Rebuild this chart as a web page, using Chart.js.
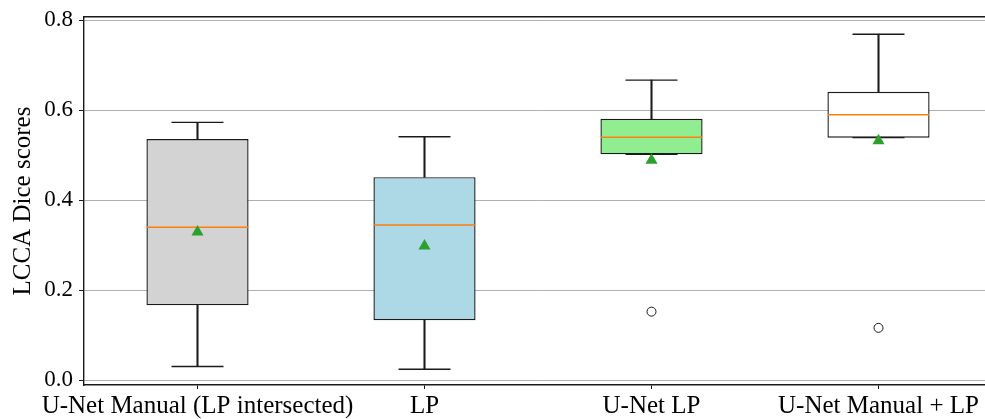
<!DOCTYPE html>
<html>
<head>
<meta charset="utf-8">
<script src="https://cdn.jsdelivr.net/npm/chart.js@4"></script>
<style>
  html, body { margin: 0; padding: 0; background: #fff; overflow: hidden; }
  #wrap { width: 1000px; height: 419px; }
</style>
</head>
<body>
<div id="wrap"><canvas id="box" width="1000" height="419"></canvas></div>
<script>
// Dice score summaries per method (whiskers, quartiles, median, mean, fliers)
const methods = ['U-Net Manual (LP intersected)', 'LP', 'U-Net LP', 'U-Net Manual + LP'];
const whiskerLow = [0.030, 0.024, 0.502, 0.539];
const q1 = [0.166, 0.133, 0.502, 0.539];
const medians = [0.340, 0.345, 0.540, 0.590];
const q3 = [0.536, 0.451, 0.581, 0.641];
const whiskerHigh = [0.573, 0.541, 0.667, 0.769];
const means = [0.329, 0.298, 0.489, 0.532];
const fliers = [null, null, 0.152, 0.116];
const yTicks = [0.0, 0.2, 0.4, 0.6, 0.8];

const boxColors = ['#d3d3d3', '#add8e6', '#90ee90', '#ffffff'];
const serif = "'Liberation Serif', 'DejaVu Serif', serif";
const ink = '#1a1a1a';

const boxWidth = 0.45;

// keep the plot area where we put it: no extra room for overhanging labels
function noPad(s) {
    s.paddingLeft = 0;
    s.paddingRight = 0;
    s.paddingTop = 0;
    s.paddingBottom = 0;
}

const datasets = [
    // whisker stems, behind the boxes
    {
        type: 'bar', label: 'upper whisker',
        data: q3.map((v, i) => [v, whiskerHigh[i]]),
        backgroundColor: ink, barThickness: 1.4, grouped: false, order: 9
    },
    {
        type: 'bar', label: 'lower whisker',
        data: q1.map((v, i) => [whiskerLow[i], v]),
        backgroundColor: ink, barThickness: 1.4, grouped: false, order: 9
    },
    // interquartile boxes
    {
        type: 'bar', label: 'IQR',
        data: q1.map((v, i) => [v, q3[i]]),
        backgroundColor: boxColors, borderColor: ink, borderWidth: 1.4,
        borderSkipped: false, categoryPercentage: 1, barPercentage: boxWidth,
        grouped: false, order: 8
    },
    // whisker caps
    {
        type: 'line', label: 'caps high', data: whiskerHigh, showLine: false,
        pointStyle: 'line', pointRadius: 26, pointBorderColor: ink, pointBorderWidth: 1.4, order: 5
    },
    {
        type: 'line', label: 'caps low', data: whiskerLow, showLine: false,
        pointStyle: 'line', pointRadius: 26, pointBorderColor: ink, pointBorderWidth: 1.4, order: 5
    },
    // medians
    {
        type: 'line', label: 'median', data: medians, showLine: false,
        pointStyle: 'line', pointRadius: 50.5, pointBorderColor: '#ff7f0e', pointBorderWidth: 1.5, order: 4
    },
    // means
    {
        type: 'line', label: 'mean', data: means, showLine: false,
        pointStyle: 'triangle', pointRadius: 7, pointBackgroundColor: '#2ca02c',
        pointBorderColor: '#2ca02c', pointBorderWidth: 0, order: 2
    },
    // outliers
    {
        type: 'line', label: 'fliers', data: fliers, showLine: false, spanGaps: false,
        pointStyle: 'circle', pointRadius: 4.5, pointBackgroundColor: 'rgba(0,0,0,0)',
        pointBorderColor: ink, pointBorderWidth: 1, order: 1
    }
];

new Chart(document.getElementById('box'), {
    type: 'bar',
    data: { labels: methods, datasets },
    options: {
        responsive: false,
        animation: false,
        events: [],
        layout: { autoPadding: false, padding: { top: 17, right: 8, left: 0, bottom: 0 } },
        plugins: { legend: { display: false }, tooltip: { enabled: false } },
        scales: {
            x: {
                type: 'category',
                offset: true,
                grid: { offset: false, drawOnChartArea: false, drawTicks: true, tickLength: 4, tickColor: ink, tickWidth: 1 },
                border: { display: true, color: ink, width: 1.4 },
                ticks: { color: '#000', font: { family: serif, size: 25 }, padding: 2, maxRotation: 0, autoSkip: false },
                afterFit: (s) => { s.height = 34; noPad(s); }
            },
            xTop: {
                type: 'category',
                position: 'top',
                grid: { display: false },
                border: { display: true, color: ink, width: 1.4 },
                ticks: { display: false },
                afterFit: (s) => { s.height = 0; noPad(s); }
            },
            y: {
                min: -0.0111,
                max: 0.8073,
                afterBuildTicks: (s) => { s.ticks = yTicks.map(v => ({ value: v })); },
                grid: { color: '#b0b0b0', lineWidth: 1, drawTicks: true, tickLength: 5, tickColor: ink, tickWidth: 1 },
                border: { display: true, color: ink, width: 1.4 },
                ticks: {
                    color: '#000', font: { family: serif, size: 23 }, padding: 6,
                    callback: (v) => Number(v).toFixed(1)
                },
                title: {
                    display: true, text: 'LCCA Dice scores', color: '#000',
                    font: { family: serif, size: 25 }, padding: { top: 8, bottom: 0 }
                },
                afterFit: (s) => { s.width = 84; noPad(s); }
            }
        }
    }
});
</script>
</body>
</html>
